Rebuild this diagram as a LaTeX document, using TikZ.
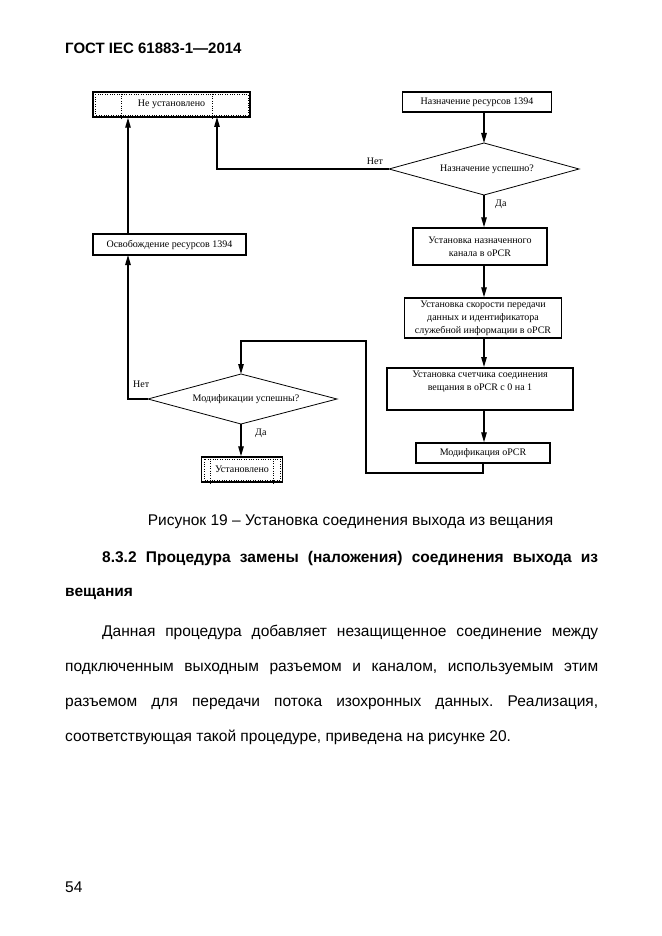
\documentclass[tikz,border=0pt]{standalone}
\usepackage{fontspec}
\setmainfont{Liberation Serif}
\newfontfamily\arial[Ligatures=TeX]{Liberation Sans}
\usetikzlibrary{arrows.meta}
\frenchspacing
\begin{document}
\begin{tikzpicture}[x=1pt,y=-1pt,
  box/.style={draw, line width=1.5pt, inner sep=0pt, align=center,
    font=\fontsize{10}{13}\selectfont},
  lbl/.style={inner sep=0pt, align=center, font=\fontsize{10}{13}\selectfont},
  dia/.style={draw, line width=0.8pt},
  arr/.style={line width=1.3pt, -{Triangle[length=10pt,width=5.5pt]}},
  dots/.style={dotted, line width=0.4pt},
  body/.style={inner sep=0pt, anchor=base west, font=\arial\fontsize{15.5}{18}\selectfont},
  head/.style={inner sep=0pt, anchor=base west, font=\arial\bfseries\fontsize{15.5}{18}\selectfont}
]
\useasboundingbox[fill=white] (0,0) rectangle (661,936);

% header
\node[inner sep=0pt, anchor=base west, font=\arial\bfseries\fontsize{15}{18}\selectfont] (hdr) at (65,54) {ГОСТ IEC 61883-1—2014};

% boxes
\node[box, minimum width=157, minimum height=25] (ne) at (171.5,104.5) {Не установлено};
\draw[dots] ([shift={(3,3)}]ne.north west) rectangle ([shift={(-3,-3)}]ne.south east);
\draw[dots] ([xshift=29pt]ne.north west) -- ([xshift=29pt]ne.south west);
\draw[dots] ([xshift=120pt]ne.north west) -- ([xshift=120pt]ne.south west);

\node[box, minimum width=149, minimum height=20] (naz) at (477,102) {Назначение ресурсов 1394};

% diamond 1
\coordinate (d1t) at (484,143);
\coordinate (d1b) at (484,195);
\coordinate (d1l) at (389,169);
\coordinate (d1r) at (579,169);
\draw[dia] (d1t) -- (d1r) -- (d1b) -- (d1l) -- cycle;
\node[lbl] (d1txt) at (487,169) {Назначение успешно?};
\node[lbl, anchor=south] (net1) at (375,165) {Нет};
\node[lbl, anchor=west] (da1) at (495,204) {Да};

\node[box, minimum width=134, minimum height=37] (ust1) at (480,246.5) {Установка назначенного\\канала в oPCR};
\node[box, minimum width=153, minimum height=21] (osv) at (169.5,244.5) {Освобождение ресурсов 1394};
\node[box, minimum width=157, minimum height=40] (ust2) at (483,318) {Установка скорости передачи\\данных и идентификатора\\служебной информации в oPCR};
\node[box, minimum width=186, minimum height=42, anchor=north] (ust3) at (480,367) {};
\node[lbl, anchor=north] (ust3t) at ([yshift=-4pt]ust3.north) {Установка счетчика соединения\\вещания в oPCR с 0 на 1};
\node[box, minimum width=134, minimum height=20] (mod) at (483,453) {Модификация oPCR};

% diamond 2
\coordinate (d2t) at (241,374);
\coordinate (d2b) at (241,424);
\coordinate (d2l) at (148,399);
\coordinate (d2r) at (337,399);
\draw[dia] (d2t) -- (d2r) -- (d2b) -- (d2l) -- cycle;
\node[lbl] (d2txt) at (246,399) {Модификации успешны?};
\node[lbl, anchor=south west] (net2) at (133,388) {Нет};
\node[lbl, anchor=west] (da2) at (255,433) {Да};

\node[box, minimum width=81, minimum height=25] (ustok) at (242,469.5) {Установлено};
\draw[dots] ([shift={(3,3)}]ustok.north west) rectangle ([shift={(-3,-3)}]ustok.south east);
\draw[dots] ([xshift=9pt]ustok.north west) -- ([xshift=9pt]ustok.south west);
\draw[dots] ([xshift=72pt]ustok.north west) -- ([xshift=72pt]ustok.south west);

% connectors
\coordinate (neIn) at (217,117);
\coordinate (osvIn) at (128,255);
\coordinate (lpA) at (483,473);
\coordinate (lpB) at (366,473);
\coordinate (lpC) at (366,341);
\coordinate (lpD) at (241,341);

\draw[arr] (naz.south -| d1t) -- (d1t);
\draw[arr] (d1b) -- (ust1.north -| d1b);
\draw[arr] (d1l) -| (neIn);
\draw[arr] (ust1.south -| d1t) -- (ust2.north -| d1t);
\draw[arr] (ust2.south -| d1t) -- (ust3.north -| d1t);
\draw[arr] (ust3.south -| d1t) -- (mod.north -| d1t);
\draw[arr] (mod.south -| lpA) -- (lpA) -- (lpB) -- (lpC) -- (lpD) -- (d2t);
\draw[arr] (d2l) -| (osvIn);
\draw[arr] (osv.north -| osvIn) -- (ne.south -| osvIn);
\draw[arr] (d2b) -- (ustok.north -| d2b);

% caption and text
\node[inner sep=0pt, anchor=base, font=\arial\fontsize{15.5}{18}\selectfont] (cap) at (350.5,525) {Рисунок 19 – Установка соединения выхода из вещания};
\node[head] (h1) at (102,562) {\makebox[496pt][s]{8.3.2 Процедура замены (наложения) соединения выхода из}};
\node[head] (h2) at (65,596) {вещания};
\node[body] (p1) at (102,636) {\makebox[496pt][s]{Данная процедура добавляет незащищенное соединение между}};
\node[body] (p2) at (65,671) {\makebox[533pt][s]{подключенным выходным разъемом и каналом, используемым этим}};
\node[body] (p3) at (65,706) {\makebox[533pt][s]{разъемом для передачи потока изохронных данных. Реализация,}};
\node[body] (p4) at (65,741) {соответствующая такой процедуре, приведена на рисунке 20.};
\node[body] (pg) at (65,892) {54};
\end{tikzpicture}
\end{document}
